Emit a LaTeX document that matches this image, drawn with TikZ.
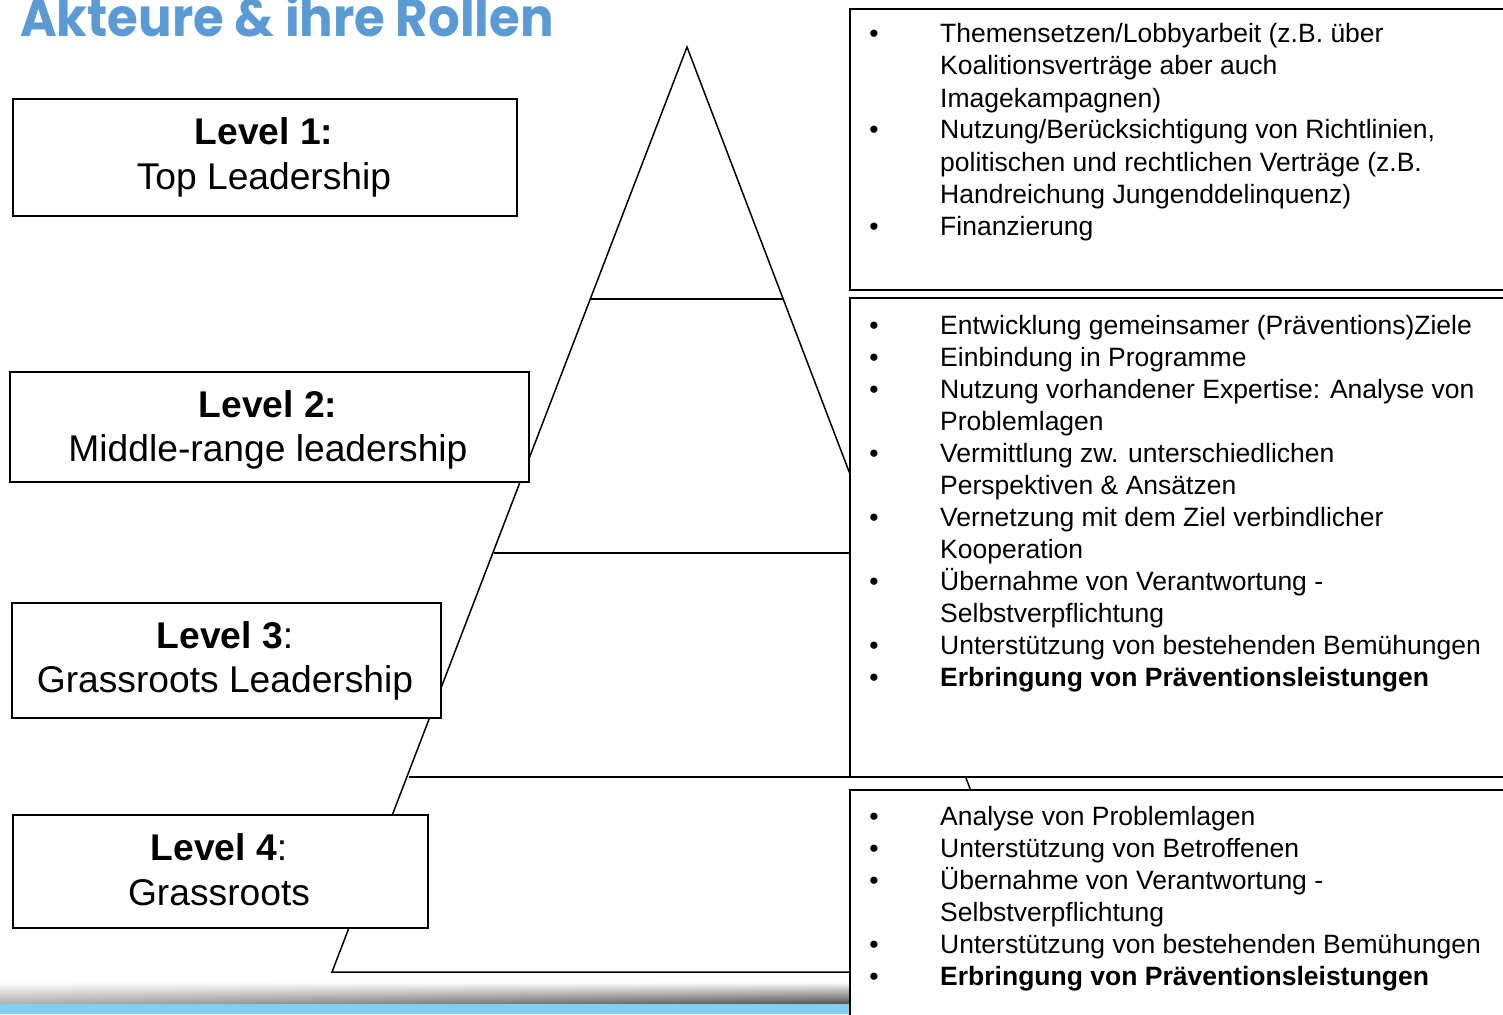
\documentclass[tikz,border=0pt]{standalone}
\usepackage{fontspec}
\setmainfont{Liberation Sans}
\newfontfamily\titlefont{Poppins}
\usetikzlibrary{fadings}
\definecolor{titleblue}{RGB}{91,155,213}
\definecolor{stripblue}{RGB}{128,206,240}
\tikzset{
  lbox/.style={draw=black, line width=2pt, fill=white},
  pyr/.style={draw=black, line width=1.5pt},
  lvl/.style={anchor=base, inner sep=0pt, font=\fontsize{37.2}{44}\selectfont},
  itm/.style={anchor=base west, inner sep=0pt, font=\fontsize{26.5}{32}\selectfont},
  bul/.style={anchor=base, inner sep=0pt, font=\fontsize{26.5}{32}\selectfont},
}
\begin{document}
\begin{tikzpicture}[x=1pt,y=-1pt]
\useasboundingbox (0,0) rectangle (1503,1014);
\clip (0,0) rectangle (1503,1014);
\fill[white] (0,0) rectangle (1503,1014);
% bottom strip
\shade[top color=white, bottom color=black!72] (0,982) rectangle (850,1005);
\fill[white, fill opacity=0.55, path fading=east] (0,982) rectangle (850,1005);
\fill[stripblue] (0,1004) rectangle (850,1014);
% title
\node[anchor=base west, inner sep=0pt, text=titleblue, font=\titlefont\bfseries\fontsize{53}{60}\selectfont] (title) at (20,37) {\scalebox{0.94}[1]{Akteure \& ihre Rollen}};
% pyramid
\coordinate (apex) at (687,47);
\coordinate (bl) at (332,972);
\coordinate (br) at (1040,972);
\draw[pyr] (apex) -- (bl) -- (br) -- cycle;
\coordinate (h1l) at (590,299); \coordinate (h1r) at (783,299);
\coordinate (h2l) at (494,553); \coordinate (h2r) at (880,553);
\coordinate (h3l) at (409,777); \coordinate (h3r) at (967,777);
\draw[pyr] (h1l) -- (h1r);
\draw[pyr] (h2l) -- (h2r);
\draw[pyr] (h3l) -- (h3r);
% left boxes
\node[lbox, minimum width=504pt, minimum height=117pt, anchor=north west] (L1) at (12,98) {};
\node[lbox, minimum width=519pt, minimum height=110pt, anchor=north west] (L2) at (9,371) {};
\node[lbox, minimum width=429pt, minimum height=115pt, anchor=north west] (L3) at (11,602) {};
\node[lbox, minimum width=415pt, minimum height=113pt, anchor=north west] (L4) at (12,814) {};
\node[lvl] (t1a) at (264,144) {\textbf{Level 1:}};
\node[lvl] (t1b) at (264,189) {Top Leadership};
\node[lvl] (t2a) at (268,417) {\textbf{Level 2:}};
\node[lvl] (t2b) at (268,461) {Middle-range leadership};
\node[lvl] (t3a) at (225,648) {\textbf{Level 3}:};
\node[lvl] (t3b) at (225,692) {Grassroots Leadership};
\node[lvl] (t4a) at (219,860) {\textbf{Level 4}:};
\node[lvl] (t4b) at (219,905) {Grassroots};
% right boxes
\node[lbox, minimum width=680pt, minimum height=281pt, anchor=north west] (R1) at (849,8) {};
\node[lbox, minimum width=680pt, minimum height=479pt, anchor=north west] (R2) at (849,297) {};
\node[lbox, minimum width=680pt, minimum height=300pt, anchor=north west] (R3) at (849,789) {};
% box 1 text
\node[bul] (b11) at (874,43) {•};
\node[itm] (r11) at (940,43) {Themensetzen/Lobbyarbeit (z.B. über};
\node[itm] (r12) at (940,75) {Koalitionsverträge aber auch};
\node[itm] (r13) at (940,107) {Imagekampagnen)};
\node[bul] (b12) at (874,139) {•};
\node[itm] (r14) at (940,139) {Nutzung/Berücksichtigung von Richtlinien,};
\node[itm] (r15) at (940,171) {politischen und rechtlichen Verträge (z.B.};
\node[itm] (r16) at (940,203) {Handreichung Jungenddelinquenz)};
\node[bul] (b13) at (874,235) {•};
\node[itm] (r17) at (940,235) {Finanzierung};
% box 2 text
\node[bul] (b21) at (874,334) {•};
\node[itm] (r21) at (940,334) {Entwicklung gemeinsamer (Präventions)Ziele};
\node[bul] (b22) at (874,366) {•};
\node[itm] (r22) at (940,366) {Einbindung in Programme};
\node[bul] (b23) at (874,398) {•};
\node[itm] (r23) at (940,398) {Nutzung vorhandener Expertise: Analyse von};
\node[itm] (r24) at (940,430) {Problemlagen};
\node[bul] (b24) at (874,462) {•};
\node[itm] (r25) at (940,462) {Vermittlung zw. unterschiedlichen};
\node[itm] (r26) at (940,494) {Perspektiven \& Ansätzen};
\node[bul] (b25) at (874,526) {•};
\node[itm] (r27) at (940,526) {Vernetzung mit dem Ziel verbindlicher};
\node[itm] (r28) at (940,558) {Kooperation};
\node[bul] (b26) at (874,590) {•};
\node[itm] (r29) at (940,590) {Übernahme von Verantwortung -};
\node[itm] (r210) at (940,622) {Selbstverpflichtung};
\node[bul] (b27) at (874,654) {•};
\node[itm] (r211) at (940,654) {Unterstützung von bestehenden Bemühungen};
\node[bul] (b28) at (874,686) {•};
\node[itm] (r212) at (940,686) {\textbf{Erbringung von Präventionsleistungen}};
% box 3 text
\node[bul] (b31) at (874,825) {•};
\node[itm] (r31) at (940,825) {Analyse von Problemlagen};
\node[bul] (b32) at (874,857) {•};
\node[itm] (r32) at (940,857) {Unterstützung von Betroffenen};
\node[bul] (b33) at (874,889) {•};
\node[itm] (r33) at (940,889) {Übernahme von Verantwortung -};
\node[itm] (r34) at (940,921) {Selbstverpflichtung};
\node[bul] (b34) at (874,953) {•};
\node[itm] (r35) at (940,953) {Unterstützung von bestehenden Bemühungen};
\node[bul] (b35) at (874,985) {•};
\node[itm] (r36) at (940,985) {\textbf{Erbringung von Präventionsleistungen}};
\end{tikzpicture}
\end{document}
